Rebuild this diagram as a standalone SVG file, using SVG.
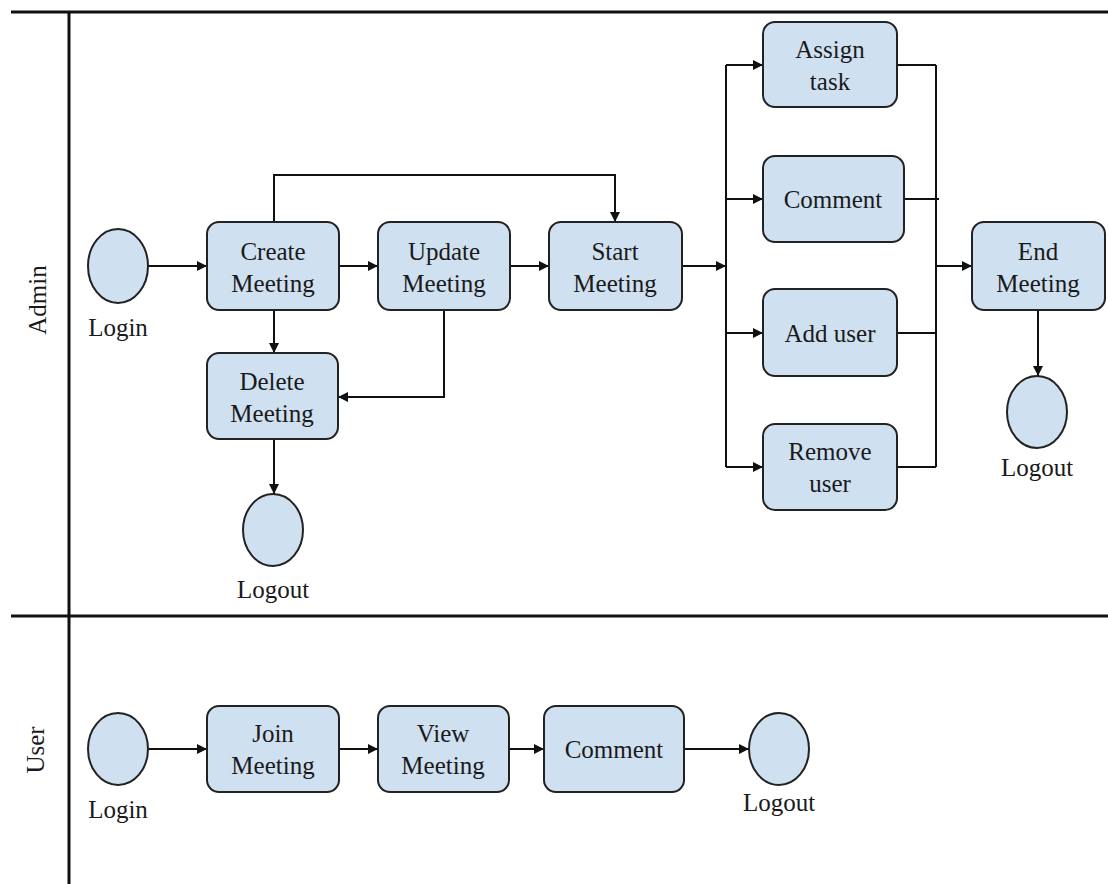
<svg xmlns="http://www.w3.org/2000/svg" width="1108" height="884" viewBox="0 0 1108 884">
  <style>
    .lane { stroke: #111; stroke-width: 3; fill: none; }
    .act { fill: #cfe0f1; stroke: #222; stroke-width: 2; }
    .state { fill: #cfe0f1; stroke: #222; stroke-width: 2; }
    .lbl { font-family: 'Liberation Serif', 'DejaVu Serif', 'Times New Roman', serif; font-size: 25px; fill: #1a1a1a; text-anchor: middle; }
    .edge { stroke: #111; stroke-width: 2; fill: none; }
  </style>
  <defs>
    <marker id="arrow" viewBox="0 0 10 10" refX="10" refY="5" markerWidth="5" markerHeight="5" orient="auto" markerUnits="strokeWidth">
      <path d="M0,0 L10,5 L0,10 Z" fill="#111"/>
    </marker>
  </defs>
  <rect width="1108" height="884" fill="#ffffff"/>

  <!-- swimlanes -->
  <g id="lanes">
    <line class="lane" x1="11" y1="12" x2="1108" y2="12"/>
    <line class="lane" x1="69" y1="12" x2="69" y2="884"/>
    <line class="lane" x1="11" y1="616" x2="1108" y2="616"/>
    <text class="lbl" font-family="Liberation Serif, serif" transform="translate(46,300) rotate(-90)">Admin</text>
    <text class="lbl" font-family="Liberation Serif, serif" transform="translate(44,750) rotate(-90)">User</text>
  </g>

  <!-- connectors -->
  <g id="connectors">
    <line class="edge" x1="148" y1="266" x2="207" y2="266" marker-end="url(#arrow)"/>
    <line class="edge" x1="339" y1="266" x2="378" y2="266" marker-end="url(#arrow)"/>
    <line class="edge" x1="510" y1="266" x2="549" y2="266" marker-end="url(#arrow)"/>
    <polyline class="edge" points="274,222 274,175 615,175 615,222" marker-end="url(#arrow)"/>
    <line class="edge" x1="274" y1="310" x2="274" y2="353" marker-end="url(#arrow)"/>
    <polyline class="edge" points="444,310 444,397 338,397" marker-end="url(#arrow)"/>
    <line class="edge" x1="274" y1="439" x2="274" y2="494" marker-end="url(#arrow)"/>
    <!-- fork -->
    <line class="edge" x1="682" y1="266" x2="726" y2="266" marker-end="url(#arrow)"/>
    <line class="edge" x1="726" y1="65" x2="726" y2="467"/>
    <line class="edge" x1="726" y1="65" x2="763" y2="65" marker-end="url(#arrow)"/>
    <line class="edge" x1="726" y1="199" x2="763" y2="199" marker-end="url(#arrow)"/>
    <line class="edge" x1="726" y1="333" x2="763" y2="333" marker-end="url(#arrow)"/>
    <line class="edge" x1="726" y1="467" x2="763" y2="467" marker-end="url(#arrow)"/>
    <!-- join -->
    <line class="edge" x1="936" y1="65" x2="936" y2="467"/>
    <line class="edge" x1="897" y1="65" x2="936" y2="65"/>
    <line class="edge" x1="904" y1="199" x2="939" y2="199"/>
    <line class="edge" x1="897" y1="333" x2="936" y2="333"/>
    <line class="edge" x1="897" y1="467" x2="936" y2="467"/>
    <line class="edge" x1="936" y1="266" x2="972" y2="266" marker-end="url(#arrow)"/>
    <line class="edge" x1="1038" y1="310" x2="1038" y2="376" marker-end="url(#arrow)"/>
    <!-- user lane -->
    <line class="edge" x1="148" y1="749" x2="207" y2="749" marker-end="url(#arrow)"/>
    <line class="edge" x1="339" y1="749" x2="378" y2="749" marker-end="url(#arrow)"/>
    <line class="edge" x1="509" y1="749" x2="544" y2="749" marker-end="url(#arrow)"/>
    <line class="edge" x1="684" y1="749" x2="749" y2="749" marker-end="url(#arrow)"/>
  </g>

  <!-- admin lane -->
  <g id="admin-login">
    <ellipse class="state" cx="118" cy="266" rx="30" ry="37"/>
    <text class="lbl" x="118" y="336">Login</text>
  </g>
  <g id="create-meeting">
    <rect class="act" x="207" y="222" width="132" height="88" rx="12"/>
    <text class="lbl" x="273" y="260">Create</text>
    <text class="lbl" x="273" y="292">Meeting</text>
  </g>
  <g id="update-meeting">
    <rect class="act" x="378" y="222" width="132" height="88" rx="12"/>
    <text class="lbl" x="444" y="260">Update</text>
    <text class="lbl" x="444" y="292">Meeting</text>
  </g>
  <g id="start-meeting">
    <rect class="act" x="549" y="222" width="133" height="88" rx="12"/>
    <text class="lbl" x="615" y="260">Start</text>
    <text class="lbl" x="615" y="292">Meeting</text>
  </g>
  <g id="delete-meeting">
    <rect class="act" x="207" y="353" width="131" height="86" rx="12"/>
    <text class="lbl" x="272" y="390">Delete</text>
    <text class="lbl" x="272" y="422">Meeting</text>
  </g>
  <g id="admin-logout-left">
    <ellipse class="state" cx="273" cy="530" rx="30" ry="36"/>
    <text class="lbl" x="273" y="598">Logout</text>
  </g>
  <g id="assign-task">
    <rect class="act" x="763" y="22" width="134" height="85" rx="12"/>
    <text class="lbl" x="830" y="58">Assign</text>
    <text class="lbl" x="830" y="90">task</text>
  </g>
  <g id="comment-admin">
    <rect class="act" x="763" y="156" width="141" height="86" rx="12"/>
    <text class="lbl" x="833" y="208">Comment</text>
  </g>
  <g id="add-user">
    <rect class="act" x="763" y="289" width="134" height="87" rx="12"/>
    <text class="lbl" x="830" y="342">Add user</text>
  </g>
  <g id="remove-user">
    <rect class="act" x="763" y="424" width="134" height="86" rx="12"/>
    <text class="lbl" x="830" y="460">Remove</text>
    <text class="lbl" x="830" y="492">user</text>
  </g>
  <g id="end-meeting">
    <rect class="act" x="972" y="222" width="133" height="88" rx="12"/>
    <text class="lbl" x="1038" y="260">End</text>
    <text class="lbl" x="1038" y="292">Meeting</text>
  </g>
  <g id="admin-logout-right">
    <ellipse class="state" cx="1037" cy="412" rx="30" ry="36"/>
    <text class="lbl" x="1037" y="476">Logout</text>
  </g>

  <!-- user lane -->
  <g id="user-login">
    <ellipse class="state" cx="118" cy="749" rx="30" ry="36"/>
    <text class="lbl" x="118" y="818">Login</text>
  </g>
  <g id="join-meeting">
    <rect class="act" x="207" y="706" width="132" height="86" rx="12"/>
    <text class="lbl" x="273" y="742">Join</text>
    <text class="lbl" x="273" y="774">Meeting</text>
  </g>
  <g id="view-meeting">
    <rect class="act" x="378" y="706" width="131" height="86" rx="12"/>
    <text class="lbl" x="443" y="742">View</text>
    <text class="lbl" x="443" y="774">Meeting</text>
  </g>
  <g id="comment-user">
    <rect class="act" x="544" y="706" width="140" height="86" rx="12"/>
    <text class="lbl" x="614" y="758">Comment</text>
  </g>
  <g id="user-logout">
    <ellipse class="state" cx="779" cy="749" rx="30" ry="36"/>
    <text class="lbl" x="779" y="811">Logout</text>
  </g>
</svg>
